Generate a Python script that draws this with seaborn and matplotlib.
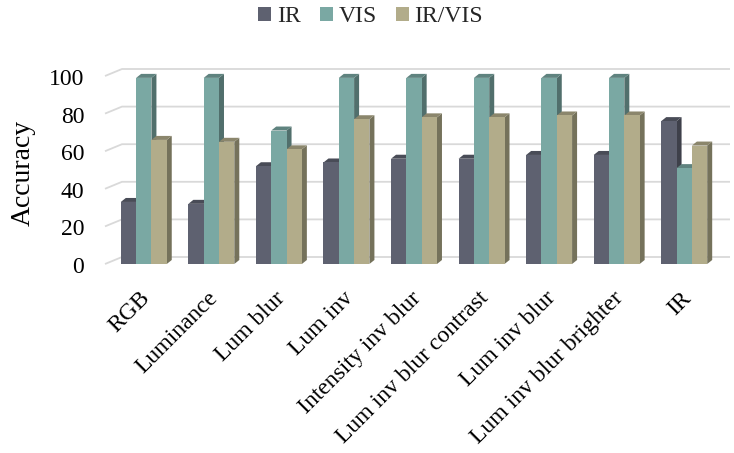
import numpy as np
import pandas as pd
import matplotlib
matplotlib.use("Agg")
import matplotlib.pyplot as plt
import matplotlib.transforms as mtransforms
from matplotlib.patches import Polygon, Patch
import seaborn as sns

# Accuracy per preprocessing method, for each input modality
methods = ["RGB", "Luminance", "Lum blur", "Lum inv", "Intensity inv blur",
           "Lum inv blur contrast", "Lum inv blur", "Lum inv blur brighter", "IR"]
ir_acc = [33, 32, 52, 54, 56, 56, 58, 58, 76]
vis_acc = [99, 99, 71, 99, 99, 99, 99, 99, 51]
irvis_acc = [66, 65, 61, 77, 78, 78, 79, 79, 63]
modes = ["IR", "VIS", "IR/VIS"]
y_ticks = [0, 20, 40, 60, 80, 100]

colors = ["#5e6170", "#7aa8a3", "#b2ac8a"]

df = pd.DataFrame({
    "method": methods * 3,
    "mode": [m for m in modes for _ in methods],
    "acc": ir_acc + vis_acc + irvis_acc,
})

sns.set_style("white")
plt.rcParams["font.family"] = ["Liberation Serif", "DejaVu Serif"]

W, H, DPI = 734, 453, 100
fig = plt.figure(figsize=(W / DPI, H / DPI), dpi=DPI)
ax = fig.add_axes([110 / W, (H - 264) / H, 608 / W, 188 / H])

sns.barplot(data=df, x="method", y="acc", hue="mode", hue_order=modes,
            palette=colors, width=0.68, saturation=1, errorbar=None,
            legend=False, ax=ax, zorder=3, linewidth=0)

ax.set_xlim(-0.5, len(methods) - 0.5)
ax.set_ylim(0, 100)
ax.set_yticks(y_ticks)
for s in ax.spines.values():
    s.set_visible(False)
ax.grid(False)
ax.tick_params(axis="both", length=0)

fig.canvas.draw()
to_disp = ax.transData.transform
to_data = ax.transData.inverted().transform

# Back wall gridlines and the slanted side edges (pixel depth offset)
wall = np.array([12.0, 7.0])
grid_c = "#d9d9d9"
x0, x1 = ax.get_xlim()
for yv in y_ticks:
    front_l = to_disp((x0, yv))
    back_l = front_l + wall
    back_r = to_disp((x1, yv)) + wall
    pts = to_data(np.array([front_l - np.array([5, 0]), back_l, back_r]))
    ax.plot(pts[:, 0], pts[:, 1], color=grid_c, lw=1.3, zorder=0,
            clip_on=False, solid_capstyle="butt")

# Depth faces for each bar
depth = np.array([5.0, 4.0])


def shade(c, f):
    r, g, b = matplotlib.colors.to_rgb(c)
    return (r * f, g * f, b * f)


bars = [p for p in ax.patches if p.get_height() > 0]
for bar in bars:
    bx, bw, bh = bar.get_x(), bar.get_width(), bar.get_height()
    fc = bar.get_facecolor()
    bl, br, tr, tl = to_disp(np.array([(bx, 0), (bx + bw, 0), (bx + bw, bh), (bx, bh)]))
    side = to_data(np.array([br, br + depth, tr + depth, tr]))
    top = to_data(np.array([tl, tr, tr + depth, tl + depth]))
    ax.add_patch(Polygon(side, closed=True, facecolor=shade(fc, 0.66),
                         edgecolor="none", zorder=1.5, clip_on=False))
    ax.add_patch(Polygon(top, closed=True, facecolor=shade(fc, 0.78),
                         edgecolor="none", zorder=1.7, clip_on=False))

# Tick labels
ax.set_xlabel("")
ax.set_xticks(range(len(methods)))
ax.set_xticklabels(methods, rotation=45, ha="right", va="top",
                   rotation_mode="anchor", fontsize=17, color="black")
ax.tick_params(axis="x", pad=17)
xshift = mtransforms.ScaledTranslation(-4 / DPI, 0, fig.dpi_scale_trans)
for lbl in ax.get_xticklabels():
    lbl.set_transform(lbl.get_transform() + xshift)

ax.set_yticklabels([str(v) for v in y_ticks], fontsize=17, color="black")
ax.tick_params(axis="y", pad=18.5)
yshift = mtransforms.ScaledTranslation(0, -1 / DPI, fig.dpi_scale_trans)
for lbl in ax.get_yticklabels():
    lbl.set_transform(lbl.get_transform() + yshift)

ax.set_ylabel("Accuracy", fontsize=20, color="black", va="center")
ax.yaxis.set_label_coords(-0.143, 0.487)

handles = [Patch(facecolor=c, edgecolor="none") for c in colors]
fig.legend(handles, modes, loc="center", bbox_to_anchor=(0.505, 1 - 17 / H),
           ncol=3, frameon=False, fontsize=17, handlelength=0.55,
           handleheight=0.55, handletextpad=0.25, columnspacing=0.8)

fig.savefig("out.png", dpi=DPI)
